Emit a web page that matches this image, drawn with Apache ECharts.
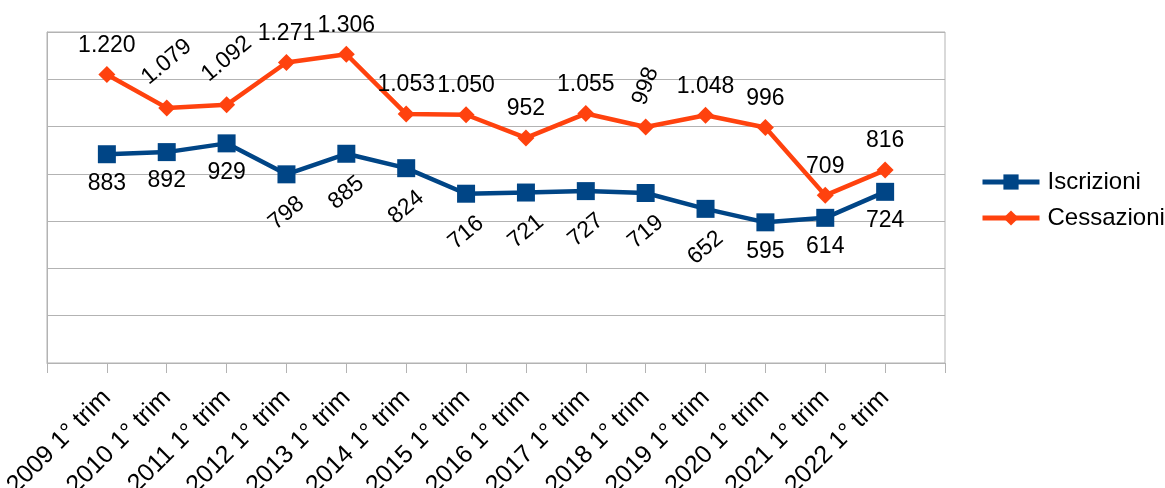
<!DOCTYPE html>
<html>
<head>
<meta charset="utf-8">
<script src="https://cdn.jsdelivr.net/npm/echarts@6/dist/echarts.min.js"></script>
<style>
html,body{margin:0;padding:0;background:#fff;}
#chart{width:1165px;height:488px;}
</style>
</head>
<body>
<div id="chart"></div>
<script>
// ---- data ----
const categories = ['2009 1° trim','2010 1° trim','2011 1° trim','2012 1° trim','2013 1° trim','2014 1° trim','2015 1° trim','2016 1° trim','2017 1° trim','2018 1° trim','2019 1° trim','2020 1° trim','2021 1° trim','2022 1° trim'];
const iscrizioni = [883, 892, 929, 798, 885, 824, 716, 721, 727, 719, 652, 595, 614, 724];
const cessazioni = [1220, 1079, 1092, 1271, 1306, 1053, 1050, 952, 1055, 998, 1048, 996, 709, 816];
const yMin = 0, yMax = 1400, yStep = 200;

// ---- label styling (rotation in degrees) ----
const iscrRotate = [0, 0, 0, 40, 40, 40, 40, 40, 40, 40, 40, 0, 0, 0];
const cessRotate = [0, 40, 40, 0, 0, 0, 0, 0, 0, 70, 0, 0, 0, 0];

const FONT = 'Liberation Sans';
const fmt = v => String(v).replace(/\B(?=(\d{3})+(?!\d))/g, '.');
const pct = (d, size) => (50 + d / size * 100) + '%';

const ISCR_SIZE = 18, CESS_SIZE = 17;
const iscrData = iscrizioni.map((v, i) => ({
  value: v,
  label: {
    rotate: iscrRotate[i],
    position: ['50%', pct(iscrRotate[i] ? 39 : 29, ISCR_SIZE)]
  }
}));
const cessData = cessazioni.map((v, i) => ({
  value: v,
  label: {
    rotate: cessRotate[i],
    position: ['50%', pct(cessRotate[i] === 70 ? -41 : (cessRotate[i] ? -46 : -29), CESS_SIZE)]
  }
}));

const xCats = [''].concat(categories, ['']);
const pad = d => [null].concat(d, [null]);

const labelBase = {
  show: true,
  formatter: p => fmt(p.value),
  fontFamily: FONT,
  fontSize: 23,
  color: '#000',
  align: 'center',
  verticalAlign: 'middle'
};

const chart = echarts.init(document.getElementById('chart'));
chart.setOption({
  animation: false,
  textStyle: { fontFamily: FONT },
  grid: { left: 47, right: 220, top: 32, bottom: 125, show: true, borderColor: '#b3b3b3', borderWidth: 1, containLabel: false, outerBoundsMode: 'none' },
  legend: {
    orient: 'vertical',
    left: 975, top: 165,
    itemWidth: 57, itemHeight: 19, itemGap: 12,
    lineStyle: { width: 5 },
    textStyle: { fontFamily: FONT, fontSize: 24, color: '#000', padding: [0, 0, 0, 3] },
    data: ['Iscrizioni', 'Cessazioni']
  },
  xAxis: {
    type: 'category',
    data: xCats,
    boundaryGap: false,
    axisLine: { lineStyle: { color: '#b3b3b3', width: 1 } },
    axisTick: { show: true, length: 10, interval: 0, lineStyle: { color: '#b3b3b3' } },
    axisLabel: { interval: 0, rotate: 45, margin: 31, fontFamily: FONT, fontSize: 25, color: '#000' },
    splitLine: { show: false }
  },
  yAxis: {
    type: 'value',
    min: yMin, max: yMax, interval: yStep,
    axisLine: { show: true, lineStyle: { color: '#b3b3b3' } },
    axisTick: { show: false },
    axisLabel: { show: false },
    splitLine: { lineStyle: { color: '#b3b3b3', width: 1 } }
  },
  series: [
    {
      name: 'Iscrizioni', type: 'line',
      data: pad(iscrData),
      symbol: 'rect', symbolSize: ISCR_SIZE,
      lineStyle: { color: '#004586', width: 4.5 },
      itemStyle: { color: '#004586', borderWidth: 0 },
      label: labelBase,
      z: 3
    },
    {
      name: 'Cessazioni', type: 'line',
      data: pad(cessData),
      symbol: 'diamond', symbolSize: CESS_SIZE,
      lineStyle: { color: '#ff420e', width: 4.5 },
      itemStyle: { color: '#ff420e', borderWidth: 0 },
      label: labelBase,
      z: 2
    }
  ]
});
</script>
</body>
</html>
